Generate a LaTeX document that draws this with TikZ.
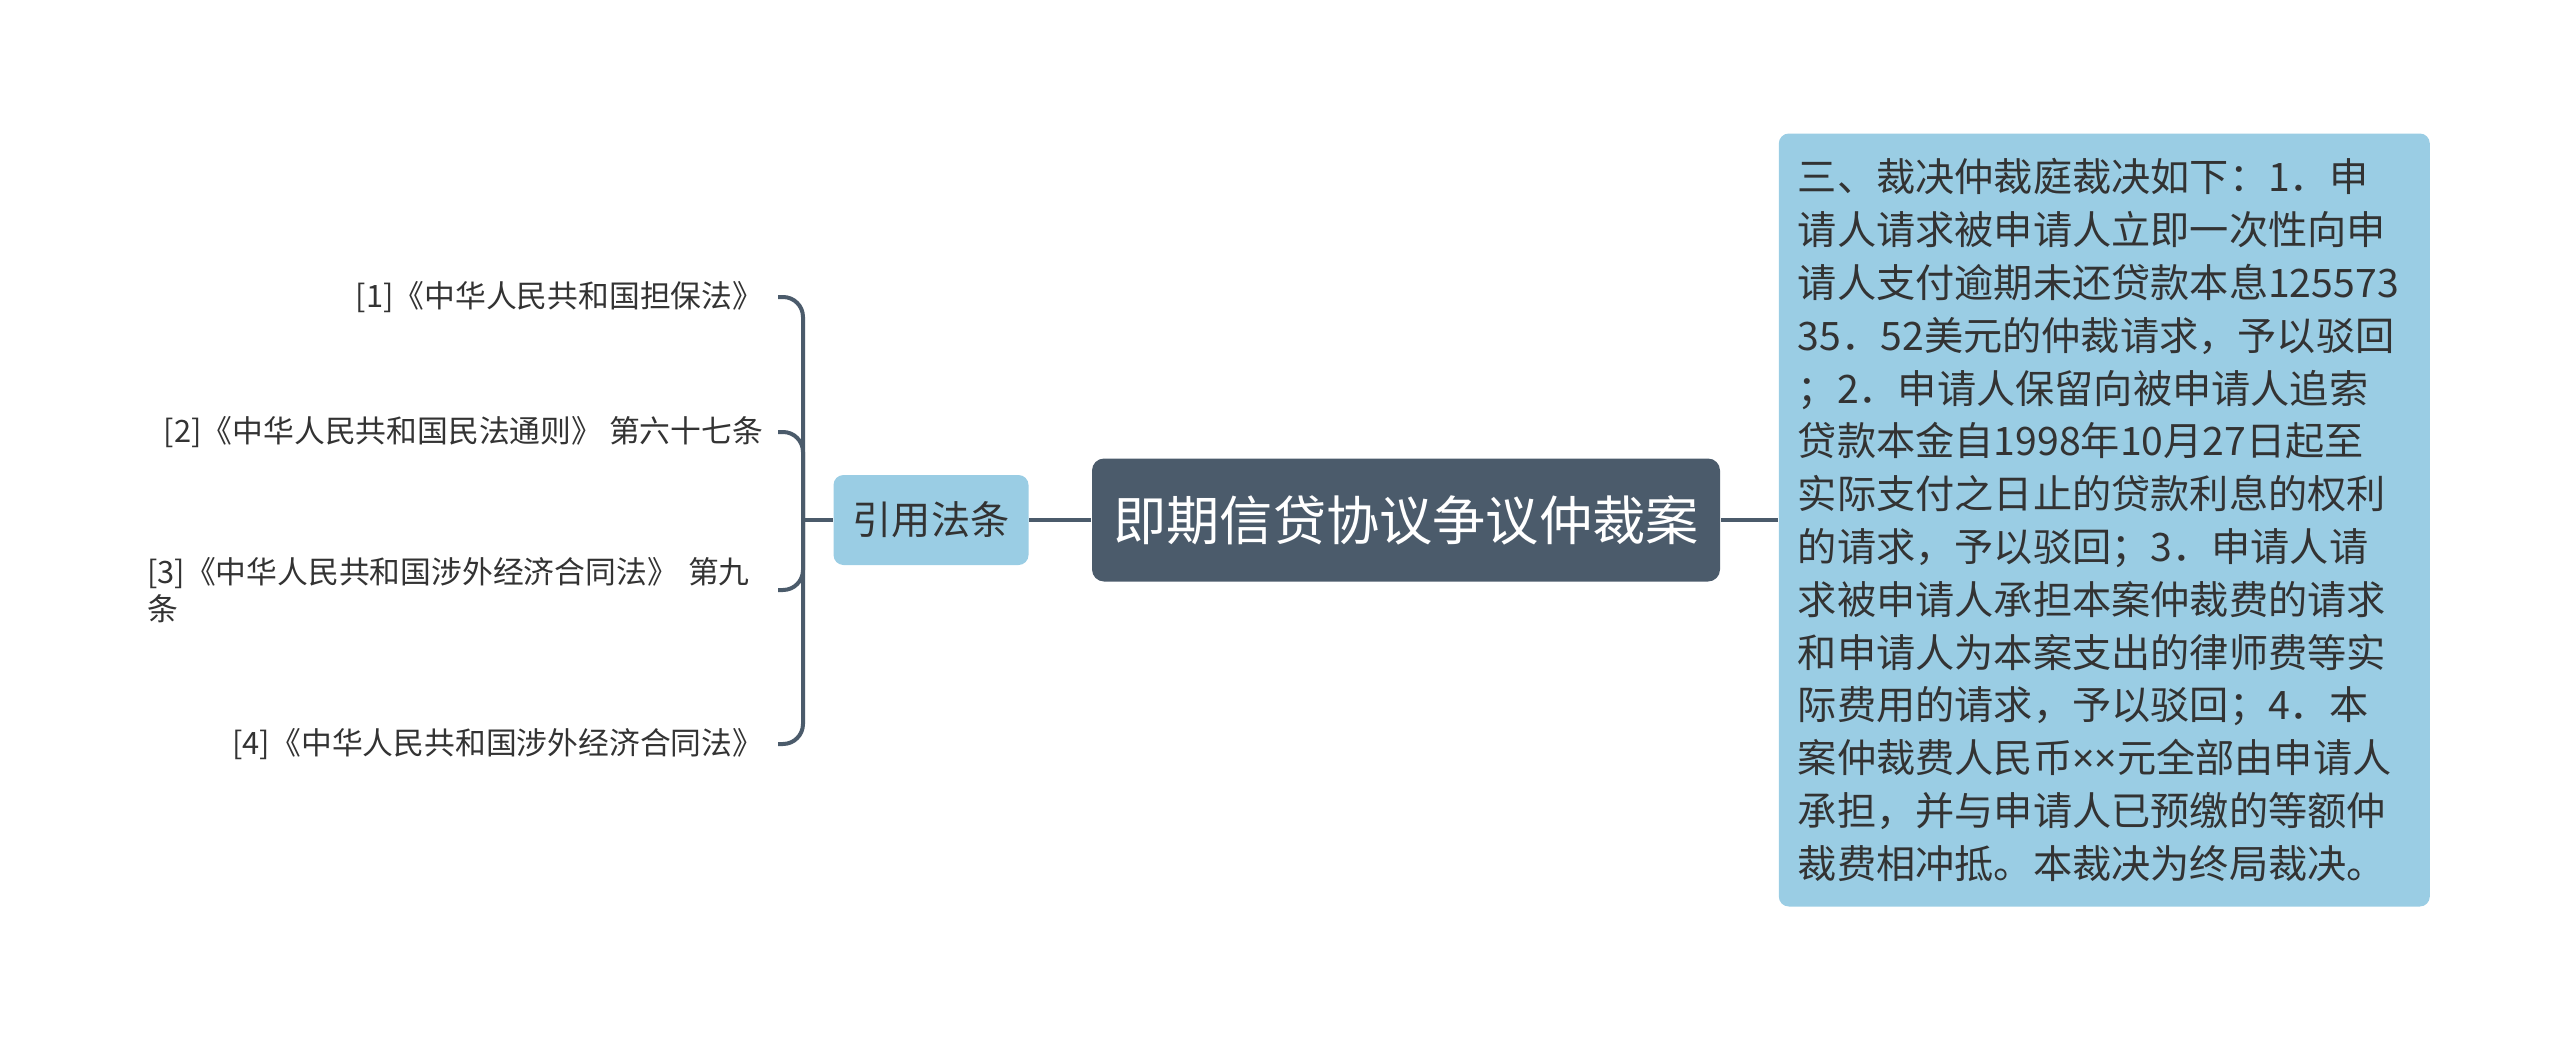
\documentclass[tikz,border=0pt]{standalone}
\usepackage{fontspec}
\setmainfont{Noto Sans CJK SC}
\newfontfamily\latinsans{Noto Sans}
\usepackage{xcolor}
\definecolor{slate}{HTML}{4B5B6B}
\definecolor{skyfill}{HTML}{9ACDE4}
\definecolor{ink}{HTML}{333333}

\begin{document}
\begin{tikzpicture}[x=0.25pt,y=-0.25pt,
  topic/.style={rectangle,rounded corners=3pt,fill=slate,text=white,
    font=\fontsize{13.3}{16}\selectfont,minimum width=157pt,minimum height=30.75pt,inner sep=0pt},
  sub/.style={rectangle,rounded corners=2.5pt,fill=skyfill,text=ink,
    font=\fontsize{9.8}{13.2}\selectfont},
  law/.style={anchor=east,text=ink,font=\fontsize{7.7}{9.25}\selectfont,inner xsep=3.5pt},
  link/.style={draw=slate,line width=1pt}]
\useasboundingbox (0,0) rectangle (2560,1039);
\node[topic](root) at (1406,520){即期信贷协议争议仲裁案};
\node[sub,minimum width=48.75pt,minimum height=22.5pt,inner sep=0pt](cite) at (931,520){引用法条};
\node[sub,anchor=west,text width=153.25pt,align=left,inner xsep=4.75pt,minimum height=193.25pt](ruling) at (1778,520){三、裁决仲裁庭裁决如下：1．申\\
请人请求被申请人立即一次性向申\\
请人支付逾期未还贷款本息125573\\
35．52美元的仲裁请求，予以驳回\\
；2．申请人保留向被申请人追索\\
贷款本金自1998年10月27日起至\\
实际支付之日止的贷款利息的权利\\
的请求，予以驳回；3．申请人请\\
求被申请人承担本案仲裁费的请求\\
和申请人为本案支出的律师费等实\\
际费用的请求，予以驳回；4．本\\
案仲裁费人民币{\latinsans ××}元全部由申请人\\
承担，并与申请人已预缴的等额仲\\
裁费相冲抵。本裁决为终局裁决。};
\node[law](l1) at (778,297){[1]《中华人民共和国担保法》};
\node[law](l2) at (778,432){[2]《中华人民共和国民法通则》 第六十七条};
\node[law,text width=154pt,align=left](l3) at (778,590){[3]《中华人民共和国涉外经济合同法》 第九\\条};
\node[law](l4) at (778,744){[4]《中华人民共和国涉外经济合同法》};
\coordinate (fork) at (803,520);
\draw[link] (root.west) -- (cite.east);
\draw[link] (root.east) -- (ruling.west);
\draw[link] (cite.west) -- (fork);
\foreach \n in {l1,l2,l3,l4}
  \draw[link,rounded corners=5pt] (fork) |- (\n.east);
\end{tikzpicture}
\end{document}
